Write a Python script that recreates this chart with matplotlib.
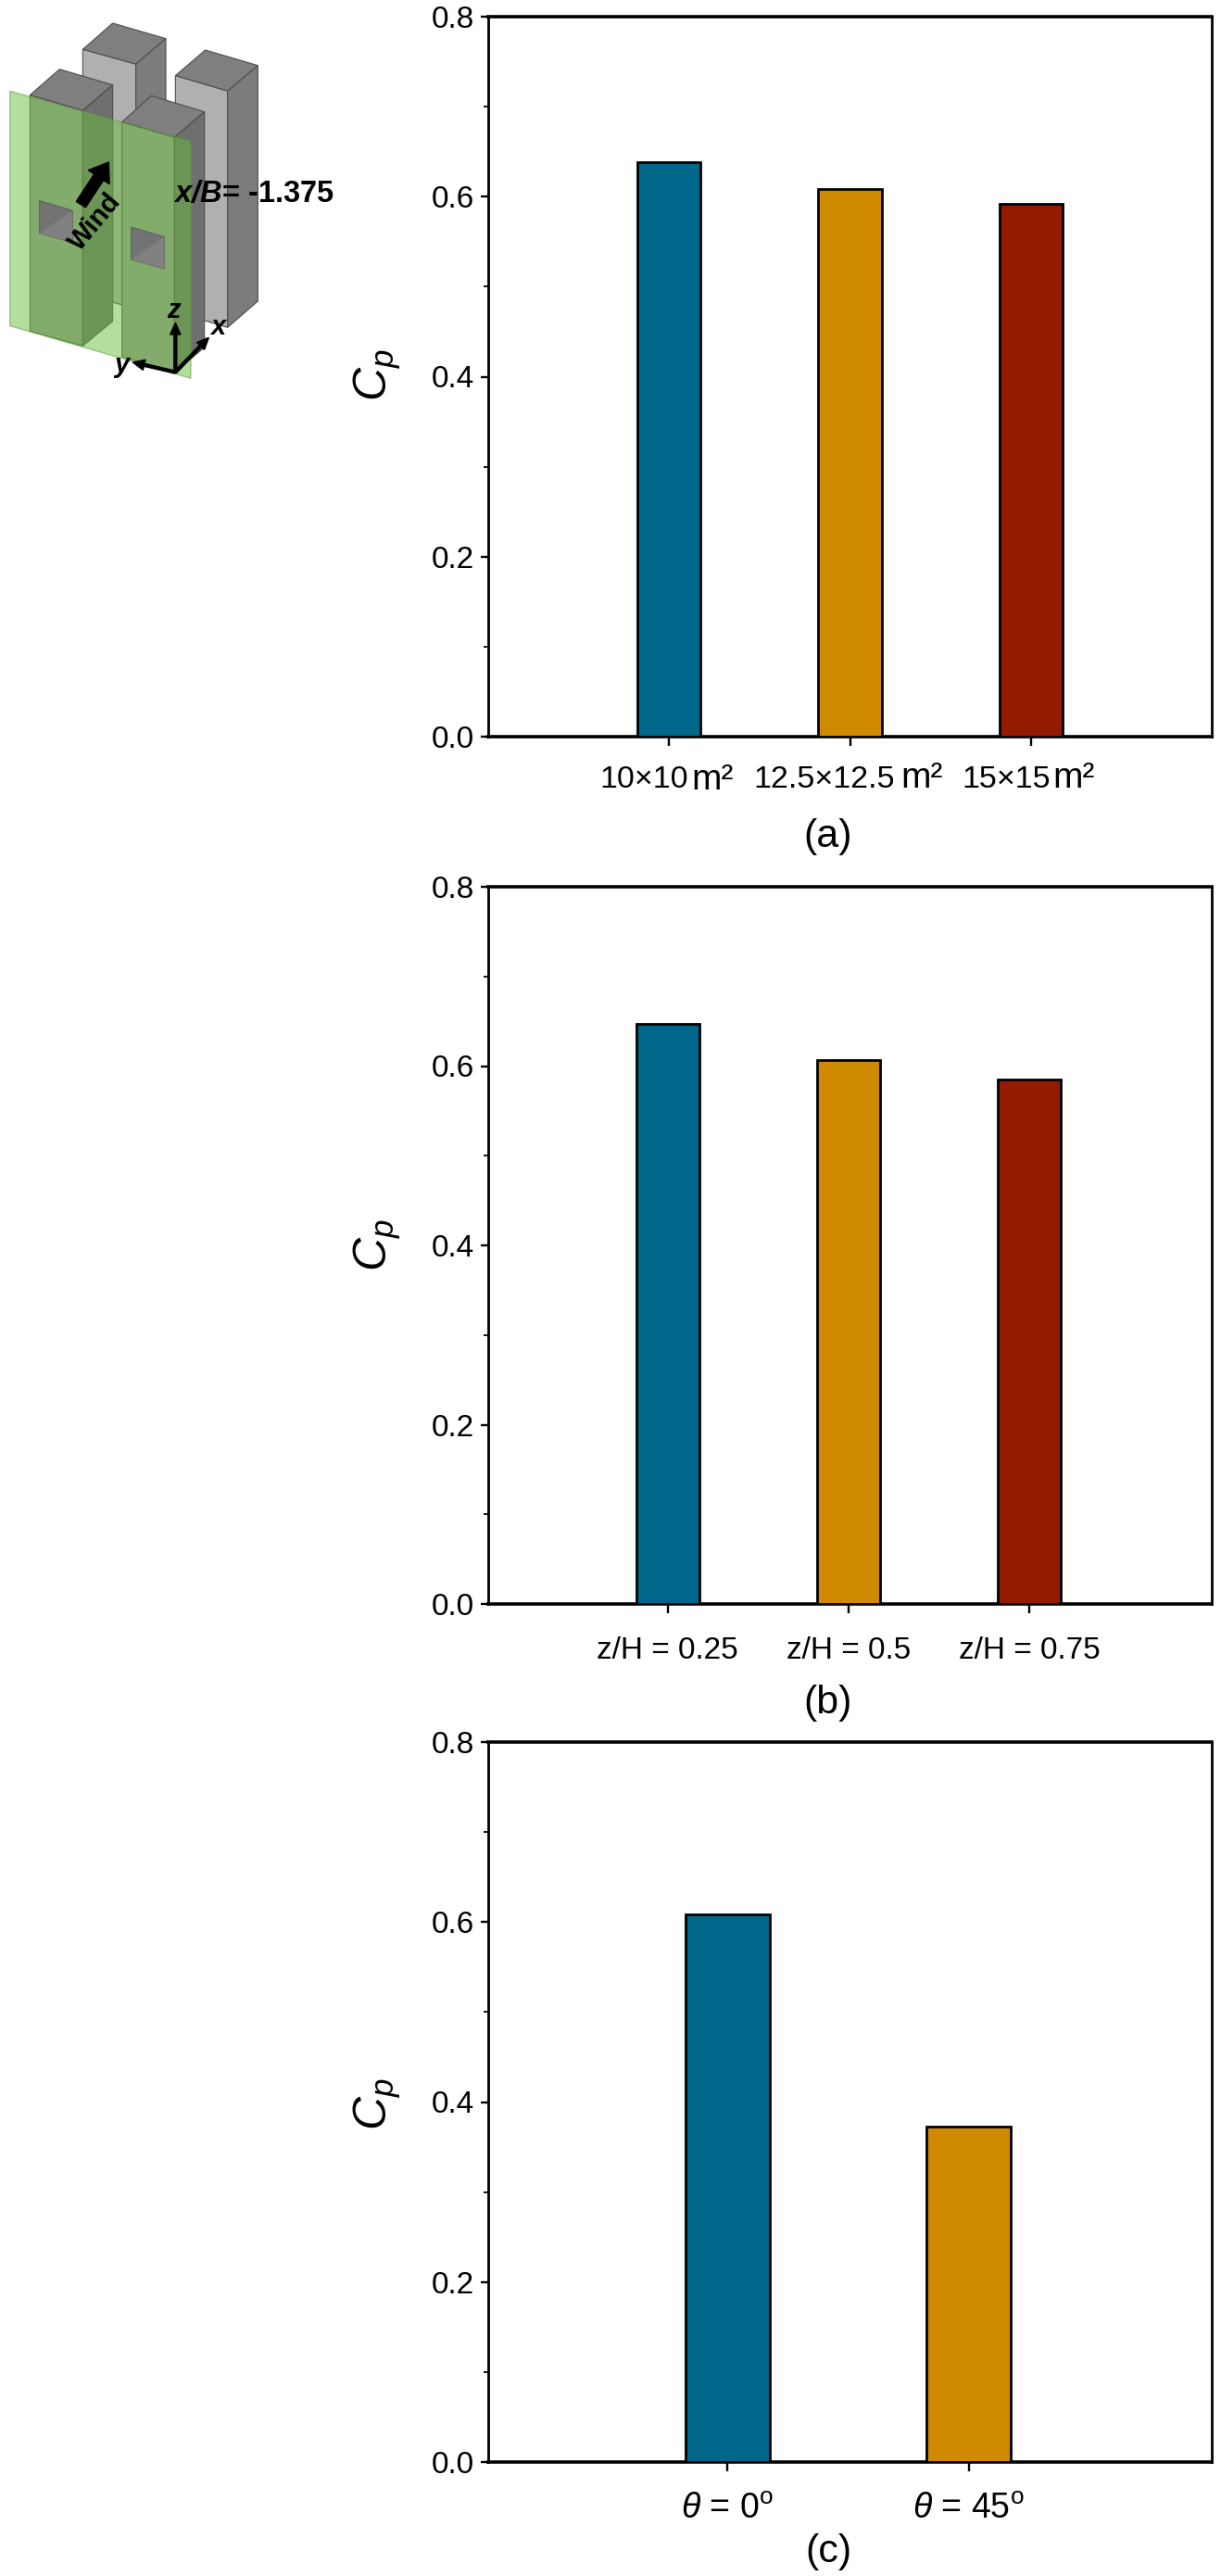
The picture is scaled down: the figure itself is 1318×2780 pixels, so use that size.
import matplotlib
matplotlib.use('Agg')
import matplotlib.pyplot as plt
from matplotlib.patches import Polygon, FancyArrow
from matplotlib.transforms import ScaledTranslation

plt.rcParams['font.family'] = ['Liberation Sans', 'DejaVu Sans']
plt.rcParams['mathtext.fontset'] = 'custom'
plt.rcParams['mathtext.rm'] = 'Liberation Sans'
plt.rcParams['mathtext.it'] = 'Liberation Sans:italic'
plt.rcParams['mathtext.bf'] = 'Liberation Sans:bold'
plt.rcParams['mathtext.bfit'] = 'Liberation Sans:italic:bold'

W, H = 1318, 2780
BLUE, ORANGE, RED = '#00678a', '#d08a00', '#951b00'

# ---- data
labels_a = ['10×10', '12.5×12.5', '15×15']
values_a = [0.638, 0.608, 0.592]
labels_b = ['z/H = 0.25', 'z/H = 0.5', 'z/H = 0.75']
values_b = [0.647, 0.607, 0.585]
labels_c = [r'$\theta$ = 0$^{\mathrm{o}}$', r'$\theta$ = 45$^{\mathrm{o}}$']
values_c = [0.608, 0.373]
colors = [BLUE, ORANGE, RED]
y_ticks = [0.0, 0.2, 0.4, 0.6, 0.8]
y_minor = [0.1, 0.3, 0.5, 0.7]

fig = plt.figure(figsize=(W / 100, H / 100), dpi=100, facecolor='white')


def make_axes(top, bottom, labels, values, xmin, xmax, tick_fs, pad, panel, panel_y, cp_y):
    left, right = 527, 1308
    ax = fig.add_axes([left / W, 1 - bottom / H, (right - left) / W, (bottom - top) / H])
    xs = list(range(1, len(values) + 1))
    ax.bar(xs, values, width=0.35, color=colors[:len(values)], edgecolor='black', linewidth=2.0, zorder=3)
    ax.set_xlim(xmin, xmax)
    ax.set_ylim(0, 0.8)
    ax.set_yticks(y_ticks)
    ax.set_yticklabels([f'{v:.1f}' for v in y_ticks], fontsize=24)
    ax.set_yticks(y_minor, minor=True)
    ax.set_xticks(xs)
    ax.set_xticklabels(labels, fontsize=tick_fs)
    ax.tick_params(axis='y', which='major', length=6, width=1.7, pad=5)
    ax.tick_params(axis='y', which='minor', length=3.5, width=1.3)
    ax.tick_params(axis='x', which='major', length=7.5, width=1.7, pad=pad)
    for s in ('top', 'bottom'):
        ax.spines[s].set_linewidth(2.6)
    for s in ('left', 'right'):
        ax.spines[s].set_linewidth(2.0)
    fig.text(894 / W, 1 - panel_y / H, panel, fontsize=31, ha='center', va='center')
    fig.text(407 / W, 1 - cp_y / H, r'$C_p$', fontsize=36, rotation=90, ha='center', va='center')
    return ax


ax_a = make_axes(18, 795, labels_a, values_a, 0, 4, 24.5, 15, '(a)', 903, 405)
ax_b = make_axes(957, 1731, labels_b, values_b, 0.008, 4.008, 24, 18, '(b)', 1838, 1344)
ax_c = make_axes(1880, 2657, labels_c, values_c, 0.008, 3.008, 27, 16, '(c)', 2754, 2271)

# panel (a) unit labels: the number is right-aligned, followed by a larger m²
right_offsets = [21, 49, 21]
for lab, dx in zip(ax_a.get_xticklabels(), right_offsets):
    lab.set_ha('right')
    lab.set_transform(lab.get_transform() + ScaledTranslation(dx / 100, 0, fig.dpi_scale_trans))
for x_px, y_px in ((746, 852), (972, 850), (1136, 850)):
    fig.text(x_px / W, 1 - y_px / H, 'm²', fontsize=28, ha='left', va='baseline')

# ---- schematic, in pixels of a zoomed crop (3x)
inset = fig.add_axes([0, 1 - 430 / H, 420 / W, 430 / H])
inset.set_xlim(0, 1260)
inset.set_ylim(1290, 0)
inset.axis('off')
inset.patch.set_alpha(0)


def poly(pts, fc, ec='#4d4d4d', lw=0.8, alpha=None, z=1):
    inset.add_patch(Polygon(pts, closed=True, facecolor=fc, edgecolor=ec, linewidth=lw, alpha=alpha, zorder=z))


TOP, FRONT, SIDE = '#7f7f7f', '#b0b0b0', '#7c7c7c'
# back centre
poly([(268, 160), (365, 75), (537, 125), (440, 208)], TOP)
poly([(268, 160), (440, 208), (440, 1000), (268, 950)], FRONT)
poly([(440, 208), (537, 125), (537, 920), (440, 1000)], SIDE)
# back right
poly([(568, 245), (665, 162), (835, 212), (737, 295)], TOP)
poly([(568, 245), (737, 295), (737, 1060), (568, 1010)], FRONT)
poly([(737, 295), (835, 212), (835, 975), (737, 1060)], SIDE)
# front left
poly([(97, 308), (193, 224), (365, 275), (268, 358)], TOP)
poly([(97, 308), (268, 358), (268, 1120), (97, 1072)], '#9a9a9a')
poly([(268, 358), (365, 275), (365, 1040), (268, 1120)], '#6f6f6f')
# front middle
poly([(395, 395), (490, 310), (662, 362), (565, 445)], TOP)
poly([(395, 395), (565, 445), (565, 1205), (395, 1155)], '#9a9a9a')
poly([(565, 445), (662, 362), (662, 1125), (565, 1205)], '#6f6f6f')
# green plane
poly([(32, 295), (618, 458), (618, 1225), (32, 1055)], '#6bbd3f', ec='#5aa030', lw=1.0, alpha=0.5, z=2)
# windows
for (x0, y0) in ((128, 650), (425, 735)):
    poly([(x0, y0), (x0 + 107, y0 + 32), (x0 + 107, y0 + 135), (x0, y0 + 105)], '#737373', ec='#606060', z=3)
    poly([(x0, y0 + 105), (x0 + 107, y0 + 32), (x0 + 107, y0 + 135)], '#808080', ec='none', lw=0, z=3)
# wind arrow
inset.add_patch(FancyArrow(262, 662, 90, -137, width=36, head_width=82, head_length=58,
                           length_includes_head=True, color='black', zorder=4))
inset.text(308, 720, 'Wind', fontsize=21, fontweight='bold', rotation=50, ha='center', va='center', zorder=5)
inset.text(562, 628, r'$\mathbfit{x/B}$= -1.375', fontsize=23.5, fontweight='bold', ha='left', va='center', zorder=5)
# axes triad
arrow_kw = dict(width=9, head_width=34, head_length=38, length_includes_head=True, color='black', zorder=5)
inset.add_patch(FancyArrow(568, 1205, 0, -160, **arrow_kw))
inset.add_patch(FancyArrow(568, 1205, -138, -32, **arrow_kw))
inset.add_patch(FancyArrow(568, 1205, 108, -112, **arrow_kw))
inset.text(563, 1005, 'z', fontsize=21, fontweight='bold', style='italic', ha='center', va='center', zorder=5)
inset.text(705, 1058, 'x', fontsize=21, fontweight='bold', style='italic', ha='center', va='center', zorder=5)
inset.text(393, 1182, 'y', fontsize=21, fontweight='bold', style='italic', ha='center', va='center', zorder=5)

fig.savefig('out.png', dpi=100, facecolor='white')
